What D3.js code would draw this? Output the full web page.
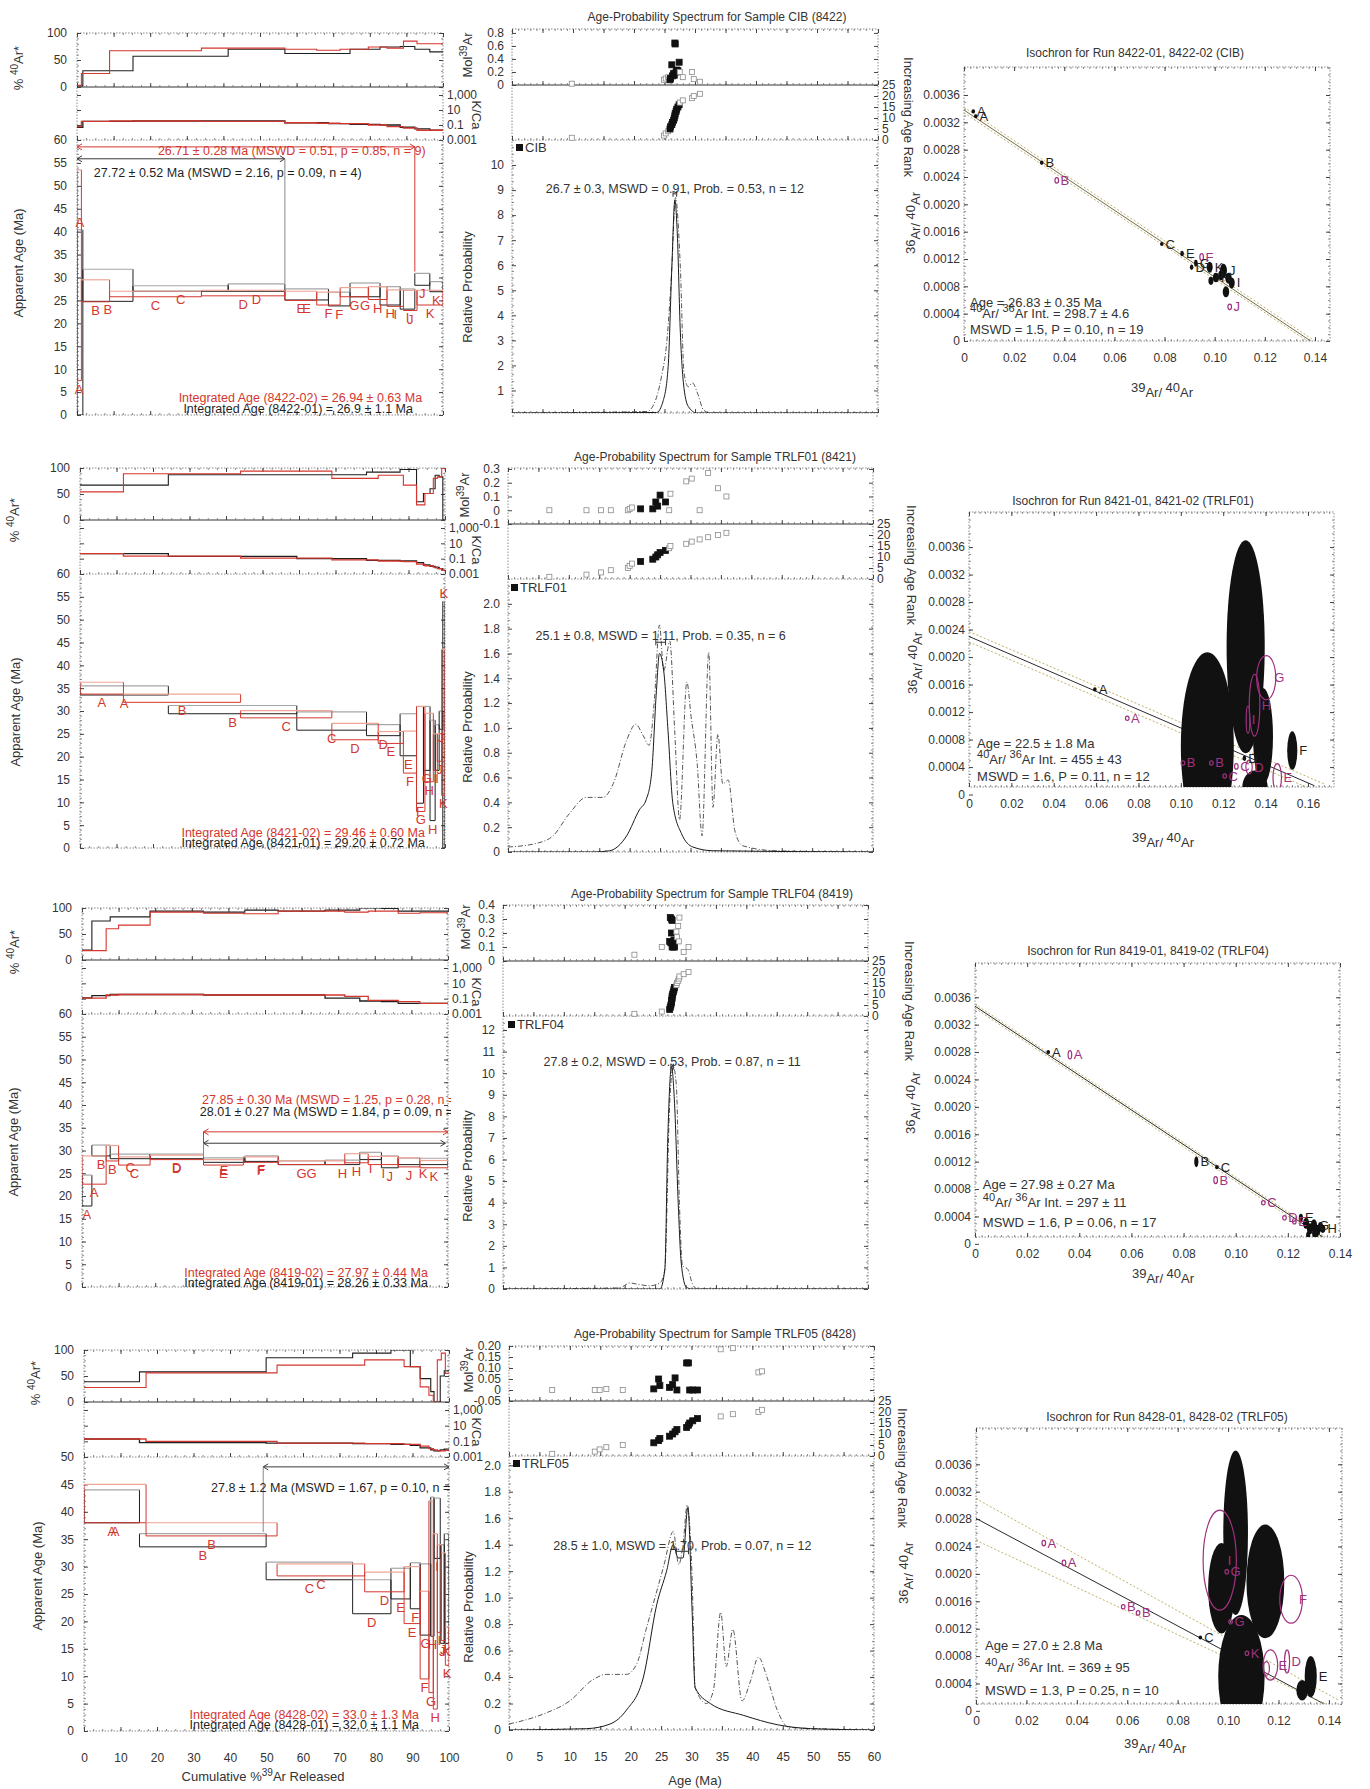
<!DOCTYPE html>
<html>
<head>
<meta charset="utf-8">
<script src="https://cdn.jsdelivr.net/npm/d3@7/dist/d3.min.js"></script>
<style>
  html,body{margin:0;padding:0;background:#fff;}
  svg{display:block;}
</style>
</head>
<body>
<svg id="chart" width="1370" height="1789"></svg>
<script>
// ======================= DATA =======================
const sampleNames = ["CIB", "TRLF01", "TRLF04", "TRLF05"];
const runIds = ["8422", "8421", "8419", "8428"];
const stepLetters = ["A","B","C","D","E","F","G","H","I","J","K"];

// ---- Row 1: CIB (8422) step-heating spectra (run -01 black, run -02 red)
const cib01Bounds = [0, 1.6, 15.3, 41.3, 56.8, 68.7, 74.6, 82.8, 88.3, 92.3, 96.4, 100];
const cib01Age    = [20.2, 28.3, 27.6, 27.8, 26.3, 25.3, 27.3, 26.0, 25.3, 29.6, 28.0];
const cib01Err    = [20.2, 3.5, 0.6, 0.8, 1.2, 1.5, 1.5, 2.0, 2.2, 1.3, 1.1];
const cib01Ar     = [2, 30, 57, 70, 62, 62, 70, 74, 75, 70, 65];
const cib01KCa    = [0.05, 0.3, 0.34, 0.34, 0.2, 0.15, 0.12, 0.1, 0.05, 0.03, 0.02];
const cib02Bounds = [0, 1.2, 8.9, 34.0, 56.8, 65.5, 71.9, 79.6, 84.7, 89.2, 92.9, 100];
const cib02Age    = [30.5, 27.1, 26.4, 26.6, 26.0, 25.4, 26.8, 26.6, 25.5, 25.0, 25.6];
const cib02Err    = [23, 2.4, 0.6, 0.6, 1.0, 1.4, 1.0, 1.4, 1.8, 2.2, 1.6];
const cib02Ar     = [3, 25, 67, 72, 70, 68, 70, 74, 72, 85, 80];
const cib02KCa    = [0.06, 0.3, 0.34, 0.3, 0.2, 0.17, 0.15, 0.1, 0.06, 0.04, 0.02];

// ---- Row 2: TRLF01 (8421)
const trl01s1Bounds = [0, 24.2, 59.4, 78.5, 87.7, 92.2, 94.1, 95.9, 97.3, 98.4, 99.4, 100];
const trl01s1Age    = [34.5, 30.3, 27.8, 25.8, 24.8, 20.4, 24.0, 17.0, 22.0, 28.0, 27.0];
const trl01s1Err    = [1.0, 0.9, 2.0, 1.2, 4.6, 10.6, 7.0, 11.0, 5.0, 2.0, 27.0];
const trl01s1Ar     = [67, 87, 87, 92, 97, 35, 51, 60, 86, 83, 0];
const trl01s1KCa    = [0.45, 0.2, 0.1, 0.06, 0.05, 0.03, 0.015, 0.01, 0.007, 0.005, 0.003];
const trl01s2Bounds = [0, 11.9, 44.0, 69.0, 81.7, 88.6, 92.2, 94.5, 96.8, 97.9, 99.1, 100];
const trl01s2Age    = [35.0, 32.8, 29.3, 25.5, 24.2, 21.0, 19.5, 22.0, 21.0, 22.0, 27.5];
const trl01s2Err    = [1.3, 0.9, 0.8, 1.8, 1.3, 4.6, 11.5, 7.5, 4.0, 3.0, 16.0];
const trl01s2Ar     = [54, 89, 94, 80, 86, 67, 29, 51, 80, 83, 99];
const trl01s2KCa    = [0.45, 0.22, 0.12, 0.07, 0.05, 0.04, 0.02, 0.012, 0.008, 0.005, 0.003];

// ---- Row 3: TRLF04 (8419)
const trl04s1Bounds = [0, 2.7, 7.7, 18.6, 33.2, 44.5, 53.6, 66.4, 75.9, 81.8, 86.4, 100];
const trl04s1Age    = [21.2, 30.0, 28.7, 28.7, 27.9, 28.2, 27.3, 27.4, 28.8, 27.5, 27.6];
const trl04s1Err    = [3.4, 1.2, 0.5, 0.5, 0.5, 0.6, 0.4, 0.5, 0.8, 1.3, 0.7];
const trl04s1Ar     = [19, 75, 83, 94, 92, 96, 94, 96, 100, 99, 94];
const trl04s1KCa    = [0.13, 0.25, 0.35, 0.35, 0.3, 0.3, 0.3, 0.12, 0.05, 0.04, 0.025];
const trl04s2Bounds = [0, 6.6, 10.0, 18.6, 33.2, 44.1, 53.6, 71.8, 78.2, 86.4, 92.3, 100];
const trl04s2Age    = [25.7, 29.4, 27.7, 28.5, 27.4, 28.0, 27.3, 28.3, 27.8, 27.4, 27.0];
const trl04s2Err    = [3.1, 1.7, 0.9, 0.5, 0.6, 0.6, 0.4, 1.0, 0.9, 1.0, 0.8];
const trl04s2Ar     = [18, 60, 67, 92, 90, 89, 94, 92, 94, 90, 91];
const trl04s2KCa    = [0.12, 0.3, 0.35, 0.35, 0.3, 0.3, 0.3, 0.2, 0.06, 0.04, 0.025];

// ---- Row 4: TRLF05 (8428)
const trl05s1Bounds = [0, 15.2, 49.9, 73.6, 84.1, 89.4, 92.1, 95.0, 95.9, 97.6, 98.7, 100];
const trl05s1Age    = [41.0, 34.8, 29.2, 24.5, 26.9, 26.5, 24.0, 30.0, 37.0, 25.0, 26.0];
const trl05s1Err    = [3.0, 1.2, 1.6, 3.1, 2.8, 4.2, 6.5, 12.7, 5.5, 9.0, 10.0];
const trl05s1Ar     = [39, 58, 85, 94, 100, 68, 45, 20, 0, 50, 60];
const trl05s1KCa    = [0.2, 0.07, 0.06, 0.05, 0.04, 0.03, 0.015, 0.008, 0.006, 0.008, 0.01];
const trl05s2Bounds = [0, 17.0, 52.9, 76.9, 87.7, 92.1, 94.5, 95.7, 96.8, 97.9, 99.0, 100];
const trl05s2Age    = [41.5, 36.8, 29.4, 27.2, 24.8, 17.5, 24.5, 20.0, 26.0, 24.5, 15.5];
const trl05s2Err    = [3.5, 1.2, 1.1, 1.8, 5.2, 8.0, 17.5, 16.0, 8.0, 8.0, 3.5];
const trl05s2Ar     = [28, 56, 71, 81, 68, 29, 13, 0, 81, 94, 55];
const trl05s2KCa    = [0.2, 0.1, 0.06, 0.05, 0.04, 0.025, 0.012, 0.008, 0.006, 0.006, 0.007];

// ---- plateau brackets: [run, from %, to %, level Ma, drop-to Ma, drop side]
const cibPlateaus   = [[2, 0, 92.3, 58.5, 31.3, "to"], [1, 0, 56.8, 55.9, 28.7, "to"]];
const trl01Plateaus = [];
const trl04Plateaus = [[2, 33.2, 100, 34.1, 28.6, "from"], [1, 33.2, 99.3, 31.6, 28.6, "from"]];
const trl05Plateaus = [[1, 49.1, 100, 48.2, 36.3, "from"]];
// plateau texts: [run, text, left %, Ma]
const cibPlateauText = [[2, "26.71 ± 0.28 Ma (MSWD = 0.51, p = 0.85, n = 9)", 22.1, 57.6],
                        [1, "27.72 ± 0.52 Ma (MSWD = 2.16, p = 0.09, n = 4)", 4.6, 52.8]];
const trl01PlateauText = [];
const trl04PlateauText = [[2, "27.85 ± 0.30 Ma (MSWD = 1.25, p = 0.28, n = 11)", 32.8, 41.1],
                          [1, "28.01 ± 0.27 Ma (MSWD = 1.84, p = 0.09, n = 13)", 32.2, 38.5]];
const trl05PlateauText = [[1, "27.8 ± 1.2 Ma (MSWD = 1.67, p = 0.10, n = 10)", 34.8, 44.5]];
// integrated ages: [run-02 text, run-01 text]
const integratedText = [
  ["Integrated Age (8422-02) = 26.94 ± 0.63 Ma", "Integrated Age (8422-01) = 26.9 ± 1.1 Ma"],
  ["Integrated Age (8421-02) = 29.46 ± 0.60 Ma", "Integrated Age (8421-01) = 29.20 ± 0.72 Ma"],
  ["Integrated Age (8419-02) = 27.97 ± 0.44 Ma", "Integrated Age (8419-01) = 28.26 ± 0.33 Ma"],
  ["Integrated Age (8428-02) = 33.0 ± 1.3 Ma", "Integrated Age (8428-01) = 32.0 ± 1.1 Ma"]];
// [right end % (-02), Ma (-02), right end % (-01), Ma (-01)]
const integratedPos = [[94.3, 3.7, 91.8, 1.5], [94.5, 3.3, 94.5, 1.1], [94.5, 3.1, 94.5, 0.9], [91.8, 2.9, 91.8, 1.1]];
const ageMaxes = [60, 60, 60, 50];

// ---- Age-probability: single-grain points (age Ma, mol 39Ar, included)
const cibPtAge = [9.8, 24.9, 25.2, 25.6, 25.9, 26.0, 26.2, 26.3, 26.5, 26.6, 26.7, 26.75, 26.9, 27.0, 27.2, 27.4, 27.5, 28.0, 29.5, 29.8, 30.8];
const cibPtMol = [0.02, 0.08, 0.10, 0.12, 0.08, 0.10, 0.31, 0.14, 0.18, 0.15, 0.645, 0.63, 0.20, 0.23, 0.22, 0.35, 0.20, 0.12, 0.20, 0.09, 0.05];
const cibPtInc = [0,0,0,0,1,1,1,1,1,1,1,1,1,1,1,1,0,0,0,0,0];
const trl01PtAge = [6.8, 12.9, 15.3, 16.9, 19.7, 20.0, 20.4, 21.8, 23.8, 24.3, 24.6, 25.0, 25.9, 26.5, 26.7, 29.3, 30.2, 31.5, 32.9, 34.5, 35.9];
const trl01PtMol = [0, 0, 0, 0, 0, 0.01, 0.02, 0.01, 0.01, 0.06, 0.03, 0.11, 0.06, 0, 0.12, 0.21, 0.23, 0, 0.27, 0.16, 0.10];
const trl01PtInc = [0,0,0,0,0,0,0,1,1,1,1,1,1,0,0,0,0,0,0,0,0];
const trl04PtAge = [21.6, 26.1, 27.4, 27.5, 27.6, 27.7, 27.7, 27.8, 27.8, 27.9, 28.0, 28.1, 28.2, 28.5, 28.6, 28.8, 28.9, 29.0, 29.7, 30.5];
const trl04PtMol = [0.045, 0.10, 0.14, 0.31, 0.13, 0.20, 0.30, 0.10, 0.29, 0.12, 0.10, 0.15, 0.10, 0.21, 0.17, 0.25, 0.14, 0.31, 0.065, 0.10];
const trl04PtInc = [0,0,1,1,1,1,1,1,1,1,1,1,1,0,0,0,0,0,0,0];
const trl05PtAge = [7.1, 14.1, 14.9, 16.0, 18.7, 23.8, 24.6, 24.8, 26.4, 26.9, 27.3, 27.6, 29.2, 29.5, 29.7, 30.2, 31.0, 34.8, 36.8, 41.0, 41.6];
const trl05PtMol = [0, 0, 0, 0.005, 0, 0.005, 0.05, 0.02, 0.012, 0.025, 0.055, 0, 0.123, 0.123, 0, 0, 0, 0.185, 0.19, 0.08, 0.085];
const trl05PtInc = [0,0,0,0,0,1,1,1,1,1,1,1,1,1,1,1,1,0,0,0,0];

// ---- probability curves [age, relative probability]
const cibProbInc = [[0,0.1],[23.7,0.12],[24.8,0.6],[25.6,1.95],[26.2,5.9],[26.7,8.6],[27.1,7.25],[27.6,3.3],[28.1,1.3],[28.9,0.36],[30.3,0.1],[60,0.1]];
const cibProbAll = [[0,0.1],[22.1,0.16],[23.2,0.42],[24.5,1.55],[25.4,3.0],[26.2,5.9],[26.8,8.7],[27.6,5.9],[28.2,1.7],[28.9,1.15],[29.6,1.3],[30.4,0.9],[31.4,0.22],[32.5,0.1],[60,0.1]];
const trl01ProbInc = [[0,0],[14,0],[16.7,0.01],[19.5,0.13],[21.6,0.34],[22.7,0.42],[23.6,0.63],[24.4,1.3],[24.9,1.6],[25.6,1.46],[26.3,0.98],[27.1,0.39],[28.5,0.15],[30.4,0.04],[33.7,0.01],[60,0]];
const trl01ProbAll = [[0,0.04],[4.7,0.07],[7.4,0.13],[10.1,0.31],[12.9,0.44],[15.6,0.44],[17.3,0.55],[19.5,0.9],[21.0,1.03],[22.2,0.94],[23.2,0.86],[24.1,1.25],[24.9,1.83],[25.6,1.46],[26.6,1.7],[27.4,0.98],[28.2,0.26],[29.4,1.37],[30.1,1.09],[31.1,0.71],[31.9,0.13],[33.0,1.61],[33.7,0.36],[34.5,0.95],[35.3,0.55],[36.2,0.58],[37.3,0.17],[38.6,0.05],[44,0.01],[60,0]];
const trl04ProbInc = [[0,0],[25.8,0],[26.6,0.9],[27.1,7.1],[27.7,10.3],[28.2,8.6],[28.8,4.0],[29.3,1.2],[30.1,0.1],[31,0],[60,0]];
const trl04ProbAll = [[0,0],[19.2,0.05],[20.8,0.28],[22.5,0.2],[24.1,0.15],[25.8,0.28],[26.6,0.9],[27.4,8.6],[28.0,10.3],[28.5,9.4],[29.0,4.0],[29.5,1.1],[30.4,0.9],[31.2,0.2],[32,0],[60,0]];
const trl05ProbInc = [[0,0],[12.7,0.01],[16.6,0.045],[19.3,0.15],[22.1,0.4],[24.3,0.95],[25.9,1.2],[27.0,1.4],[27.8,1.3],[28.6,1.3],[29.4,1.68],[30.1,0.9],[30.6,0.32],[33.1,0.2],[38.6,0.11],[44.1,0.04],[49.6,0.01],[60,0]];
const trl05ProbAll = [[0,0.045],[5.6,0.12],[10,0.22],[13.8,0.38],[16,0.42],[19.3,0.42],[21.0,0.5],[22.6,0.77],[24.3,1.05],[25.5,1.25],[27.0,1.5],[27.9,1.25],[28.6,1.4],[29.3,1.7],[30.1,1.15],[30.6,0.32],[32.5,0.2],[33.6,0.3],[34.8,0.89],[35.7,0.48],[36.8,0.76],[38.3,0.22],[39.7,0.37],[41.0,0.55],[42.4,0.4],[44.1,0.15],[46,0.02],[60,0]];

// weighted means shown on the probability plots
const wMean = [26.7, 25.1, 27.8, 28.5];
const wErr  = [0.3, 0.8, 0.2, 1.0];
const wText = ["26.7 ± 0.3, MSWD = 0.91, Prob. = 0.53, n = 12",
               "25.1 ± 0.8, MSWD = 1.11, Prob. = 0.35, n = 6",
               "27.8 ± 0.2, MSWD = 0.53, Prob. = 0.87, n = 11",
               "28.5 ± 1.0, MSWD = 1.70, Prob. = 0.07, n = 12"];
const wTextY = [9.05, 1.745, 10.54, 1.39];
const wBarY  = [8.85, 1.69, 10.3, 1.35];

// axis ranges / tick labels for the probability column
const molDomains = [[0, 0.86], [-0.1, 0.307], [0, 0.4], [-0.05, 0.2]];
const molTicks   = [[0, 0.2, 0.4, 0.6, 0.8], [-0.1, 0, 0.1, 0.2, 0.3], [0, 0.1, 0.2, 0.3, 0.4], [-0.05, 0, 0.05, 0.10, 0.15, 0.20]];
const molDec     = [1, 1, 1, 2];
const probDomains = [[0.1, 11], [0, 2.2], [0, 12.65], [0, 2.07]];
const probTicks   = [[1,2,3,4,5,6,7,8,9,10], [0,0.2,0.4,0.6,0.8,1.0,1.2,1.4,1.6,1.8,2.0], [0,1,2,3,4,5,6,7,8,9,10,11,12], [0,0.2,0.4,0.6,0.8,1.0,1.2,1.4,1.6,1.8,2.0]];
const probDec     = [0, 1, 0, 1];
const rankTicks   = [0, 5, 10, 15, 20, 25];
const kcaTicks    = [1000, 10, 0.1, 0.001];
const ageAxisTicks = [0, 5, 10, 15, 20, 25, 30, 35, 40, 45, 50, 55, 60];
const cumTicks     = [0, 10, 20, 30, 40, 50, 60, 70, 80, 90, 100];

// ---- isochrons: [39Ar/40Ar, 36Ar/40Ar, sx, sy, run, label]
const cibIso = [
  [0.0037,0.00336,0.0005,0.00003,1,"A"],[0.0047,0.00329,0.0005,0.00003,1,"A"],
  [0.031,0.00261,0.0005,0.00003,1,"B"],[0.037,0.00235,0.0005,0.00004,2,"B"],
  [0.0789,0.00142,0.0005,0.00003,1,"C"],[0.087,0.00128,0.0005,0.00004,1,"E"],
  [0.0908,0.00108,0.0005,0.00004,1,"D"],[0.0925,0.00114,0.0007,0.00005,1,"G"],
  [0.0948,0.00123,0.0005,0.00005,2,"F"],[0.098,0.00108,0.0012,0.00008,1,"K"],
  [0.1005,0.00093,0.0012,0.00007,1,"H"],[0.1035,0.00103,0.0014,0.0001,1,"J"],
  [0.1045,0.00072,0.0013,0.00008,1,""],[0.1055,0.00092,0.0013,0.00008,1,""],
  [0.1068,0.00085,0.0012,0.00008,1,"I"],[0.1025,0.00096,0.0011,0.00007,1,""],
  [0.0985,0.00088,0.0010,0.00006,1,""],[0.1060,0.00050,0.0005,0.00004,2,"J"]];
const trl01Iso = [
  [0.1125,0.0007,0.0125,0.00137,1,""],[0.1306,0.00215,0.009,0.00155,1,""],
  [0.1388,0.00085,0.0047,0.0007,1,""],[0.135,0.0001,0.006,0.00025,1,""],
  [0.1526,0.00064,0.0024,0.00028,1,"F"],[0.0594,0.00153,0.0006,0.00003,1,"A"],
  [0.130,0.00053,0.0006,0.00004,1,"D"],
  [0.0747,0.00111,0.0005,0.00003,2,"A"],[0.101,0.00046,0.0005,0.00003,2,"B"],
  [0.1144,0.00046,0.0005,0.00003,2,"B"],[0.1207,0.00027,0.0005,0.00003,2,"C"],
  [0.1262,0.00041,0.0005,0.00004,2,"C"],[0.1322,0.0004,0.0015,0.0001,2,"D"],
  [0.1455,0.00025,0.002,0.0002,2,"E"],[0.1403,0.0017,0.0045,0.00032,2,"G"],
  [0.1348,0.0013,0.0025,0.00045,2,"H"],[0.1317,0.00109,0.0008,0.0002,2,"I"]];
const trl04Iso = [
  [0.0281,0.0028,0.0005,0.00003,1,"A"],[0.0364,0.00276,0.0004,0.00006,2,"A"],
  [0.0849,0.0012,0.0008,0.00008,1,"B"],[0.0928,0.00112,0.0005,0.00003,1,"C"],
  [0.0923,0.00093,0.0005,0.00005,2,"B"],[0.1106,0.0006,0.0005,0.00003,2,"C"],
  [0.1187,0.00038,0.0005,0.00003,2,"D"],[0.1225,0.00033,0.0005,0.00004,2,"E"],
  [0.125,0.00038,0.0008,0.00006,1,"E"],[0.127,0.0003,0.0012,0.00008,1,""],
  [0.1285,0.00022,0.0012,0.00008,1,""],[0.13,0.00027,0.0012,0.00009,1,"G"],
  [0.1305,0.00015,0.0012,0.00008,1,""],[0.1315,0.0002,0.001,0.00008,1,""],
  [0.1325,0.00025,0.001,0.00007,1,""],[0.1334,0.00022,0.001,0.00006,1,"H"],
  [0.1278,0.00012,0.0008,0.00006,1,""]];
const trl05Iso = [
  [0.103,0.0026,0.0049,0.0012,1,""],[0.0974,0.00179,0.0053,0.00066,1,""],
  [0.1148,0.00189,0.0075,0.00083,1,""],[0.1053,0.0005,0.0092,0.0009,1,""],
  [0.1328,0.0005,0.0024,0.0003,1,"E"],[0.1294,0.0003,0.0023,0.00015,1,""],
  [0.089,0.00107,0.0005,0.00003,1,"C"],
  [0.0967,0.0022,0.0066,0.00073,2,"I"],[0.125,0.00163,0.0045,0.00035,2,"F"],
  [0.1168,0.00067,0.0029,0.00022,2,"E"],[0.1152,0.00062,0.0012,0.0001,2,""],
  [0.1234,0.00072,0.001,0.00017,2,"D"],[0.0269,0.00245,0.0004,0.00004,2,"A"],
  [0.0349,0.00216,0.0004,0.00004,2,"A"],[0.0584,0.00152,0.0004,0.00003,2,"B"],
  [0.0643,0.00143,0.0004,0.00003,2,"B"],[0.0995,0.00203,0.0004,0.00003,2,"G"],
  [0.101,0.0013,0.0004,0.00003,2,"G"],[0.1075,0.00084,0.0004,0.00003,2,"K"]];
// regression lines and their error envelopes: [[x0,y0],[x1,y1]]
const isoLines = [[[0,0.00338],[0.1383,0]], [[0,0.0023],[0.163,0.00013]], [[0,0.00347],[0.1334,0.0001]], [[0,0.00281],[0.1376,0.00011]]];
const isoEnvUpper = [[[0,0.00342],[0.14,0]], [[0,0.00237],[0.168,0.00015]], [[0,0.0035],[0.1345,0.0001]], [[0,0.0031],[0.1436,0.00016]]];
const isoEnvLower = [[[0,0.00334],[0.137,0]], [[0,0.00222],[0.16,0.0001]], [[0,0.00344],[0.132,0.0001]], [[0,0.00249],[0.14,0.00008]]];
const isoXDomains = [[0, 0.146], [0, 0.1723], [0, 0.14], [0, 0.1452]];
const isoYDomains = [[0, 0.00401], [0.00011, 0.00411], [0.0001, 0.0041], [0.0001, 0.00413]];
const isoXTicks = [[0,0.02,0.04,0.06,0.08,0.10,0.12,0.14], [0,0.02,0.04,0.06,0.08,0.10,0.12,0.14,0.16], [0,0.02,0.04,0.06,0.08,0.10,0.12,0.14], [0,0.02,0.04,0.06,0.08,0.10,0.12,0.14]];
const isoYTicks = [0,0.0004,0.0008,0.0012,0.0016,0.0020,0.0024,0.0028,0.0032,0.0036];
const isoAge = ["Age =  26.83 ± 0.35 Ma", "Age =  22.5 ± 1.8 Ma", "Age =  27.98 ± 0.27 Ma", "Age =  27.0 ± 2.8 Ma"];
const isoInt = ["298.7 ± 4.6", "455 ± 43", "297 ± 11", "369 ± 95"];
const isoMswd = ["MSWD = 1.5,  P = 0.10, n = 19", "MSWD = 1.6,  P = 0.11, n = 12", "MSWD = 1.6,  P = 0.06, n = 17", "MSWD = 1.3,  P = 0.25, n = 10"];
const isoStatPos = [[0.0024,0.00057,0.00036,0.00017],[0.0038,0.00075,0.00047,0.00027],[0.003,0.00086,0.00057,0.00031],[0.0036,0.00096,0.00059,0.0003]];

// ======================= TABLE BUILT FROM THE ARRAYS =======================
const mk = (b,a,e,ar,k) => ({bounds:b, age:a, err:e, ar:ar, kca:k});
const rows = [
  {s1:mk(cib01Bounds,cib01Age,cib01Err,cib01Ar,cib01KCa), s2:mk(cib02Bounds,cib02Age,cib02Err,cib02Ar,cib02KCa),
   plat:cibPlateaus, platText:cibPlateauText, pt:[cibPtAge,cibPtMol,cibPtInc], pInc:cibProbInc, pAll:cibProbAll, iso:cibIso},
  {s1:mk(trl01s1Bounds,trl01s1Age,trl01s1Err,trl01s1Ar,trl01s1KCa), s2:mk(trl01s2Bounds,trl01s2Age,trl01s2Err,trl01s2Ar,trl01s2KCa),
   plat:trl01Plateaus, platText:trl01PlateauText, pt:[trl01PtAge,trl01PtMol,trl01PtInc], pInc:trl01ProbInc, pAll:trl01ProbAll, iso:trl01Iso},
  {s1:mk(trl04s1Bounds,trl04s1Age,trl04s1Err,trl04s1Ar,trl04s1KCa), s2:mk(trl04s2Bounds,trl04s2Age,trl04s2Err,trl04s2Ar,trl04s2KCa),
   plat:trl04Plateaus, platText:trl04PlateauText, pt:[trl04PtAge,trl04PtMol,trl04PtInc], pInc:trl04ProbInc, pAll:trl04ProbAll, iso:trl04Iso},
  {s1:mk(trl05s1Bounds,trl05s1Age,trl05s1Err,trl05s1Ar,trl05s1KCa), s2:mk(trl05s2Bounds,trl05s2Age,trl05s2Err,trl05s2Ar,trl05s2KCa),
   plat:trl05Plateaus, platText:trl05PlateauText, pt:[trl05PtAge,trl05PtMol,trl05PtInc], pInc:trl05ProbInc, pAll:trl05ProbAll, iso:trl05Iso}
];

// ======================= LAYOUT =======================
const layout = [
  {L:{x0:77,x1:443,t:33,d1:87,d2:140,b:415}, M:{x0:512,x1:878,t:29,d1:85,d2:140,b:413}, R:{x0:964,x1:1330,t:67,b:341},
   arLab:[18,68], ageLab:[18,263], relLab:[467,287], molLab:[467,55], kcaLab:[477,115], rankLab:[909,117],
   isoYLab:[910,223], isoXLab:[1162,387], isoTitle:[1135,53], midTitle:[717,17], legend:[520,147]},
  {L:{x0:80,x1:445,t:468,d1:520,d2:574,b:848}, M:{x0:508,x1:873,t:468,d1:524,d2:579,b:852}, R:{x0:969,x1:1334,t:512,b:787},
   arLab:[14,520], ageLab:[15,712], relLab:[467,727], molLab:[464,495], kcaLab:[477,550], rankLab:[912,565],
   isoYLab:[912,663], isoXLab:[1163,837], isoTitle:[1133,501], midTitle:[715,457], legend:[515,587]},
  {L:{x0:82,x1:448,t:908,d1:960,d2:1014,b:1287}, M:{x0:503,x1:868,t:905,d1:961,d2:1016,b:1289}, R:{x0:975,x1:1340,t:963,b:1237},
   arLab:[14,952], ageLab:[13,1142], relLab:[467,1166], molLab:[465,927], kcaLab:[477,992], rankLab:[910,1001],
   isoYLab:[910,1103], isoXLab:[1163,1273], isoTitle:[1148,951], midTitle:[712,894], legend:[512,1024]},
  {L:{x0:84,x1:449,t:1350,d1:1402,d2:1457,b:1731}, M:{x0:509,x1:874,t:1346,d1:1401,d2:1456,b:1730}, R:{x0:976,x1:1342,t:1428,b:1704},
   arLab:[35,1383], ageLab:[37,1576], relLab:[468,1607], molLab:[468,1370], kcaLab:[477,1432], rankLab:[903,1468],
   isoYLab:[903,1573], isoXLab:[1155,1743], isoTitle:[1167,1417], midTitle:[715,1334], legend:[517,1463]}
];

// ======================= DRAWING =======================
const FONT = '"Liberation Sans", Arial, Helvetica, sans-serif';
const COL = {k:"#1f1f1f", g:"#a6a6a6", r:"#d3372e", rl:"#eea596", m:"#a0317f", txt:"#333333", fr:"#8c8c8c", env:"#c2b067"};
const runDark  = r => r === 2 ? COL.r : COL.k;
const runLight = r => r === 2 ? COL.rl : COL.g;

const svg = d3.select("#chart").attr("font-family", FONT);
svg.append("rect").attr("width", 1370).attr("height", 1789).attr("fill", "#fff");
const defs = svg.append("defs");

function addAxis(g, orient, scale, pos, major, minor, fmt, pad) {
  const gen = {left:d3.axisLeft, right:d3.axisRight, top:d3.axisTop, bottom:d3.axisBottom}[orient];
  const tr = (orient === "left" || orient === "right") ? `translate(${pos},0)` : `translate(0,${pos})`;
  if (minor && minor.length) {
    const m = g.append("g").attr("transform", tr).call(gen(scale).tickValues(minor).tickSize(-2).tickFormat(""));
    m.select(".domain").remove();
    m.selectAll("line").attr("stroke", "#6f6f6f").attr("stroke-width", 0.8);
  }
  if (major && major.length) {
    const a = g.append("g").attr("transform", tr)
      .call(gen(scale).tickValues(major).tickSize(-4).tickPadding(pad || 5).tickFormat(fmt || (() => "")));
    a.select(".domain").remove();
    a.attr("font-family", FONT).attr("font-size", 12);
    a.selectAll("line").attr("stroke", "#444");
    a.selectAll("text").attr("fill", COL.txt);
  }
}
function frame(g, x0, x1, y0, y1) {
  g.append("rect").attr("x", x0).attr("y", y0).attr("width", x1 - x0).attr("height", y1 - y0)
    .attr("fill", "none").attr("stroke", COL.fr).attr("stroke-dasharray", "1.5,1.5");
}
function hline(g, x0, x1, y, solid) {
  g.append("line").attr("x1", x0).attr("x2", x1).attr("y1", y).attr("y2", y)
    .attr("stroke", solid ? "#333" : COL.fr).attr("stroke-dasharray", solid ? null : "1.5,1.5");
}
function rich(sel, parts) {
  let cur = 0;
  parts.forEach(([t, off, fs]) => {
    sel.append("tspan").attr("dy", off - cur).attr("font-size", fs || null).text(t);
    cur = off;
  });
}
function label(g, pos, angle, parts, opts = {}) {
  const size = opts.size || 13;
  const t = g.append("text").attr("transform", `translate(${pos[0]},${pos[1]}) rotate(${angle})`)
    .attr("y", size * 0.35).attr("text-anchor", opts.anchor || "middle")
    .attr("font-size", size).attr("fill", opts.fill || COL.txt);
  if (typeof parts === "string") t.text(parts); else rich(t, parts);
  return t;
}
const fmtDec = d => v => (v === 0 ? "0" : v.toFixed(d));

// ------------- left column: %40Ar*, K/Ca, apparent-age spectrum -------------
function drawLeft(R, lay, i) {
  const L = lay.L, g = svg.append("g");
  const amax = ageMaxes[i];
  const xs = d3.scaleLinear().domain([0, 100]).range([L.x0, L.x1]);
  const ya = d3.scaleLinear().domain([0, 100]).range([L.d1, L.t]);
  const yk = d3.scaleLog().domain([1e-3, 1e3]).range([L.d2, L.d1 + 8]);
  const yg = d3.scaleLinear().domain([0, amax]).range([L.b, L.d2]);

  const cA = "cA" + i, cK = "cK" + i, cG = "cG" + i, cT = "cT" + i;
  defs.append("clipPath").attr("id", cA).append("rect").attr("x", L.x0).attr("y", L.t).attr("width", L.x1 - L.x0).attr("height", L.d1 - L.t);
  defs.append("clipPath").attr("id", cK).append("rect").attr("x", L.x0).attr("y", L.d1).attr("width", L.x1 - L.x0).attr("height", L.d2 - L.d1);
  defs.append("clipPath").attr("id", cG).append("rect").attr("x", L.x0).attr("y", L.d2).attr("width", L.x1 - L.x0).attr("height", L.b - L.d2);
  defs.append("clipPath").attr("id", cT).append("rect").attr("x", 0).attr("y", L.d2).attr("width", L.x1 + 3).attr("height", L.b - L.d2);

  frame(g, L.x0, L.x1, L.t, L.b);
  hline(g, L.x0, L.x1, L.d1, true);
  hline(g, L.x0, L.x1, L.d2, false);

  const ageMinor = d3.range(0, amax + 1, 1);
  const ageMajor = ageAxisTicks.filter(v => v <= amax);
  addAxis(g, "left", ya, L.x0, [0, 50, 100], [10,20,30,40,60,70,80,90], d => d, 10);
  addAxis(g, "left", yg, L.x0, ageMajor, ageMinor, d => d, 10);
  addAxis(g, "right", ya, L.x1, [0, 50, 100], [10,20,30,40,60,70,80,90], null);
  addAxis(g, "right", yg, L.x1, ageMajor, ageMinor, null);
  addAxis(g, "right", yk, L.x1, kcaTicks, [], v => v >= 1 ? d3.format(",")(v) : String(v), 4);
  addAxis(g, "left", yk, L.x0, kcaTicks, [], null);
  const xMinor = d3.range(0, 101, 2.5);
  addAxis(g, "top", xs, L.t, cumTicks, xMinor, null);
  addAxis(g, "bottom", xs, L.d1, cumTicks, xMinor, null);
  addAxis(g, "bottom", xs, L.d2, cumTicks, xMinor, null);
  addAxis(g, "bottom", xs, L.b, cumTicks, xMinor, i === 3 ? (d => d) : null, 22);

  const stepPts = (s, vals) => {
    const n = vals.length;
    const p = s.bounds.slice(0, n).map((b, k) => [b, vals[k]]);
    p.push([s.bounds[n], vals[n - 1]]);
    return p;
  };
  const lineA = d3.line().x(d => xs(d[0])).y(d => ya(d[1])).curve(d3.curveStepAfter);
  const lineK = d3.line().x(d => xs(d[0])).y(d => yk(d[1])).curve(d3.curveStepAfter);
  const gA = g.append("g").attr("clip-path", `url(#${cA})`);
  const gK = g.append("g").attr("clip-path", `url(#${cK})`);
  const gG = g.append("g").attr("clip-path", `url(#${cG})`);
  [[R.s1, 1], [R.s2, 2]].forEach(([s, run]) => {
    gA.append("path").attr("d", lineA(stepPts(s, s.ar))).attr("fill", "none").attr("stroke", runDark(run)).attr("stroke-width", 1.1);
    gK.append("path").attr("d", lineK(stepPts(s, s.kca))).attr("fill", "none").attr("stroke", runDark(run)).attr("stroke-width", 1.3);
    s.age.forEach((a, k) => {
      const xa = xs(s.bounds[k]), xb = xs(s.bounds[k + 1]);
      const top = yg(Math.min(a + s.err[k], amax)), bot = yg(Math.max(a - s.err[k], 0));
      gG.append("path").attr("d", `M${xa},${top}V${bot}H${xb}V${top}`)
        .attr("fill", "none").attr("stroke", runDark(run)).attr("stroke-width", 1);
      gG.append("line").attr("x1", xa).attr("x2", xb).attr("y1", top).attr("y2", top)
        .attr("stroke", runLight(run)).attr("stroke-width", 1.2);
    });
  });
  // step letters
  [R.s1, R.s2].forEach(s => {
    s.age.forEach((a, k) => {
      const cx = xs((s.bounds[k] + s.bounds[k + 1]) / 2);
      const lo = a - s.err[k];
      const y = lo < 2.5 ? yg(Math.min(a + s.err[k], amax)) - 3 : yg(lo) + 13;
      g.append("text").attr("x", cx).attr("y", y).attr("text-anchor", "middle")
        .attr("font-size", 13).attr("fill", COL.r).text(stepLetters[k]);
    });
  });
  // plateau brackets
  R.plat.forEach(([run, from, to, at, dropTo, side]) => {
    const c = run === 2 ? COL.r : "#3a3a3a";
    const y = yg(at), xa = xs(from), xb = xs(to);
    g.append("line").attr("x1", xa).attr("x2", xb).attr("y1", y).attr("y2", y).attr("stroke", c);
    g.append("path").attr("d", `M${xa + 5},${y - 3}L${xa},${y}L${xa + 5},${y + 3}`).attr("fill", "none").attr("stroke", c);
    g.append("path").attr("d", `M${xb - 5},${y - 3}L${xb},${y}L${xb - 5},${y + 3}`).attr("fill", "none").attr("stroke", c);
    const xd = side === "to" ? xb : xa;
    g.append("line").attr("x1", xd).attr("x2", xd).attr("y1", y).attr("y2", yg(dropTo))
      .attr("stroke", run === 2 ? COL.r : "#888").attr("stroke-width", 1);
  });
  const gT = g.append("g").attr("clip-path", `url(#${cT})`);
  R.platText.forEach(([run, txt, px, pa]) => {
    gT.append("text").attr("x", xs(px)).attr("y", yg(pa)).attr("dy", "0.35em")
      .attr("font-size", 12.5).attr("fill", run === 2 ? COL.r : COL.k).text(txt);
  });
  const ip = integratedPos[i];
  g.append("text").attr("x", xs(ip[0])).attr("y", yg(ip[1])).attr("dy", "0.35em").attr("text-anchor", "end")
    .attr("font-size", 12.5).attr("fill", COL.r).text(integratedText[i][0]);
  g.append("text").attr("x", xs(ip[2])).attr("y", yg(ip[3])).attr("dy", "0.35em").attr("text-anchor", "end")
    .attr("font-size", 12.5).attr("fill", COL.k).text(integratedText[i][1]);

  label(g, lay.arLab, -90, [["% ", 0], ["40", -5, 10], ["Ar*", 0]], {size: 13});
  label(g, lay.ageLab, -90, "Apparent Age (Ma)", {size: 13});
  if (i === 3) label(g, [263, 1776], 0, [["Cumulative %", 0], ["39", -5, 10], ["Ar Released", 0]], {size: 13});
}

// ------------- middle column: age-probability spectrum -------------
function drawMiddle(R, lay, i) {
  const M = lay.M, g = svg.append("g");
  const xs = d3.scaleLinear().domain([0, 60]).range([M.x0, M.x1]);
  const ym = d3.scaleLinear().domain(molDomains[i]).range([M.d1, M.t]);
  const yr = d3.scaleLinear().domain([0, 25]).range([M.d2, M.d1]);
  const yp = d3.scaleLinear().domain(probDomains[i]).range([M.b, M.d2]);
  const cP = "cP" + i;
  defs.append("clipPath").attr("id", cP).append("rect").attr("x", M.x0).attr("y", M.d2).attr("width", M.x1 - M.x0).attr("height", M.b - M.d2);

  frame(g, M.x0, M.x1, M.t, M.b);
  hline(g, M.x0, M.x1, M.d1, true);
  hline(g, M.x0, M.x1, M.d2, false);
  const xMajor = d3.range(0, 61, 5), xMinor = d3.range(0, 61, 1);
  addAxis(g, "top", xs, M.t, xMajor, xMinor, null);
  addAxis(g, "bottom", xs, M.d1, xMajor, xMinor, null);
  addAxis(g, "bottom", xs, M.d2, xMajor, xMinor, null);
  addAxis(g, "bottom", xs, M.b, xMajor, xMinor, i === 3 ? (d => d) : null, 22);
  addAxis(g, "left", ym, M.x0, molTicks[i], [], fmtDec(molDec[i]), 8);
  addAxis(g, "right", ym, M.x1, molTicks[i], [], null);
  const pMinor = d3.range(0, 41).map(k => probDomains[i][1] * k / 40);
  addAxis(g, "left", yp, M.x0, probTicks[i], pMinor, fmtDec(probDec[i]), 8);
  addAxis(g, "right", yp, M.x1, probTicks[i], pMinor, null);
  addAxis(g, "right", yr, M.x1, rankTicks, [], d => d, 4);

  // grain points
  const [ages, mols, inc] = R.pt;
  ages.forEach((a, k) => {
    const filled = inc[k] === 1, s = filled ? 6 : 5;
    const add = (cy) => g.append("rect").attr("x", xs(a) - s / 2).attr("y", cy - s / 2).attr("width", s).attr("height", s)
      .attr("fill", filled ? "#111" : "#fff").attr("stroke", filled ? "#111" : "#8a8a8a").attr("stroke-width", 0.8);
    add(ym(mols[k]));
    add(yr(k + 1));
  });
  // probability curves
  const gp = g.append("g").attr("clip-path", `url(#${cP})`);
  const line = d3.line().x(d => xs(d[0])).y(d => yp(d[1])).curve(d3.curveMonotoneX);
  gp.append("path").attr("d", line(R.pAll)).attr("fill", "none").attr("stroke", "#555")
    .attr("stroke-width", 1).attr("stroke-dasharray", "5,2,1,2");
  gp.append("path").attr("d", line(R.pInc)).attr("fill", "none").attr("stroke", "#1a1a1a").attr("stroke-width", 1);
  // weighted mean bar
  const by = yp(wBarY[i]), bx0 = xs(wMean[i] - wErr[i]), bx1 = xs(wMean[i] + wErr[i]);
  g.append("line").attr("x1", bx0).attr("x2", bx1).attr("y1", by).attr("y2", by).attr("stroke", "#333");
  [bx0, bx1].forEach(x => g.append("line").attr("x1", x).attr("x2", x).attr("y1", by - 3).attr("y2", by + 3).attr("stroke", "#333"));
  g.append("text").attr("x", xs(wMean[i])).attr("y", yp(wTextY[i])).attr("dy", "0.35em").attr("text-anchor", "middle")
    .attr("font-size", 12.5).attr("fill", COL.txt).text(wText[i]);
  // legend
  g.append("rect").attr("x", lay.legend[0] - 4).attr("y", lay.legend[1] - 3).attr("width", 7).attr("height", 7).attr("fill", "#111");
  g.append("text").attr("x", lay.legend[0] + 5).attr("y", lay.legend[1]).attr("dy", "0.35em")
    .attr("font-size", 13).attr("fill", COL.txt).text(sampleNames[i]);
  // titles / labels
  label(g, lay.midTitle, 0, `Age-Probability Spectrum for Sample ${sampleNames[i]} (${runIds[i]})`, {size: 12});
  label(g, lay.relLab, -90, "Relative Probability", {size: 13});
  label(g, lay.molLab, -90, [["Mol", 0], ["39", -5, 10], ["Ar", 0]], {size: 13});
  label(g, lay.kcaLab, 90, "K/Ca", {size: 13});
  label(g, lay.rankLab, 90, "Increasing Age Rank", {size: 13});
  if (i === 3) label(g, [695, 1780], 0, "Age (Ma)", {size: 13});
}

// ------------- right column: inverse isochron -------------
function drawIso(R, lay, i) {
  const B = lay.R, g = svg.append("g");
  const xs = d3.scaleLinear().domain(isoXDomains[i]).range([B.x0, B.x1]);
  const ys = d3.scaleLinear().domain(isoYDomains[i]).range([B.b, B.t]);
  const cI = "cI" + i;
  defs.append("clipPath").attr("id", cI).append("rect").attr("x", B.x0).attr("y", B.t).attr("width", B.x1 - B.x0).attr("height", B.b - B.t);
  frame(g, B.x0, B.x1, B.t, B.b);
  const xMinor = d3.range(0, 71).map(k => k * 0.0025).filter(v => v <= isoXDomains[i][1]);
  const yMinor = d3.range(1, 41).map(k => k * 0.0001).filter(v => v <= isoYDomains[i][1] && v >= isoYDomains[i][0]);
  addAxis(g, "left", ys, B.x0, isoYTicks, yMinor, v => v === 0 ? "0" : v.toFixed(4), 4);
  addAxis(g, "right", ys, B.x1, isoYTicks.filter(v => v >= isoYDomains[i][0]), yMinor, null);
  addAxis(g, "bottom", xs, B.b, isoXTicks[i], xMinor, v => v === 0 ? "0" : v.toFixed(2), 12);
  addAxis(g, "top", xs, B.t, isoXTicks[i], xMinor, null);

  const gc = g.append("g").attr("clip-path", `url(#${cI})`);
  const ln = d3.line().x(d => xs(d[0])).y(d => ys(d[1]));
  gc.append("path").attr("d", ln(isoLines[i])).attr("stroke", i === 0 ? "#6e6a4e" : "#2a2a2a").attr("stroke-width", 1).attr("fill", "none");
  [isoEnvUpper[i], isoEnvLower[i]].forEach(e =>
    gc.append("path").attr("d", ln(e)).attr("stroke", COL.env).attr("stroke-width", 1).attr("stroke-dasharray", "2,2").attr("fill", "none"));
  const pts = R.iso;
  pts.filter(p => p[4] === 1).forEach(p => {
    const rx = Math.max(1.8, xs(p[0] + p[2]) - xs(p[0])), ry = Math.max(1.8, ys(p[1]) - ys(p[1] + p[3]));
    gc.append("ellipse").attr("cx", xs(p[0])).attr("cy", ys(p[1])).attr("rx", rx).attr("ry", ry).attr("fill", "#111");
  });
  pts.filter(p => p[4] === 2).forEach(p => {
    const rx = Math.max(1.8, xs(p[0] + p[2]) - xs(p[0])), ry = Math.max(2.2, ys(p[1]) - ys(p[1] + p[3]));
    gc.append("ellipse").attr("cx", xs(p[0])).attr("cy", ys(p[1])).attr("rx", rx).attr("ry", ry)
      .attr("fill", "none").attr("stroke", COL.m).attr("stroke-width", 1.2);
  });
  pts.forEach(p => {
    if (!p[5]) return;
    const rx = Math.max(1.8, xs(p[0] + p[2]) - xs(p[0]));
    g.append("text").attr("x", xs(p[0]) + Math.min(rx, 6) + 2).attr("y", ys(p[1])).attr("dy", "0.35em")
      .attr("font-size", 13).attr("fill", p[4] === 2 ? COL.m : COL.k).text(p[5]);
  });
  // stats
  const sp = isoStatPos[i];
  const sx = xs(sp[0]);
  g.append("text").attr("x", sx).attr("y", ys(sp[1])).attr("dy", "0.35em").attr("font-size", 13).attr("fill", COL.txt).text(isoAge[i]);
  const t2 = g.append("text").attr("x", sx).attr("y", ys(sp[2])).attr("dy", "0.35em").attr("font-size", 13).attr("fill", COL.txt);
  rich(t2, [["40", -4, 11], ["Ar/ ", 2], ["36", -4, 11], ["Ar Int. =  " + isoInt[i], 2]]);
  g.append("text").attr("x", sx).attr("y", ys(sp[3])).attr("dy", "0.35em").attr("font-size", 13).attr("fill", COL.txt).text(isoMswd[i]);

  const ids = runIds[i];
  label(g, lay.isoTitle, 0, `Isochron for Run ${ids}-01, ${ids}-02 (${sampleNames[i]})`, {size: 12});
  label(g, lay.isoYLab, -90, [["36", 0], ["Ar/ ", 5], ["40", 0], ["Ar", 5]], {size: 13});
  label(g, lay.isoXLab, 0, [["39", 0], ["Ar/ ", 5], ["40", 0], ["Ar", 5]], {size: 13});
}

rows.forEach((R, i) => {
  drawMiddle(R, layout[i], i);
  drawLeft(R, layout[i], i);
  drawIso(R, layout[i], i);
});
</script>
</body>
</html>
